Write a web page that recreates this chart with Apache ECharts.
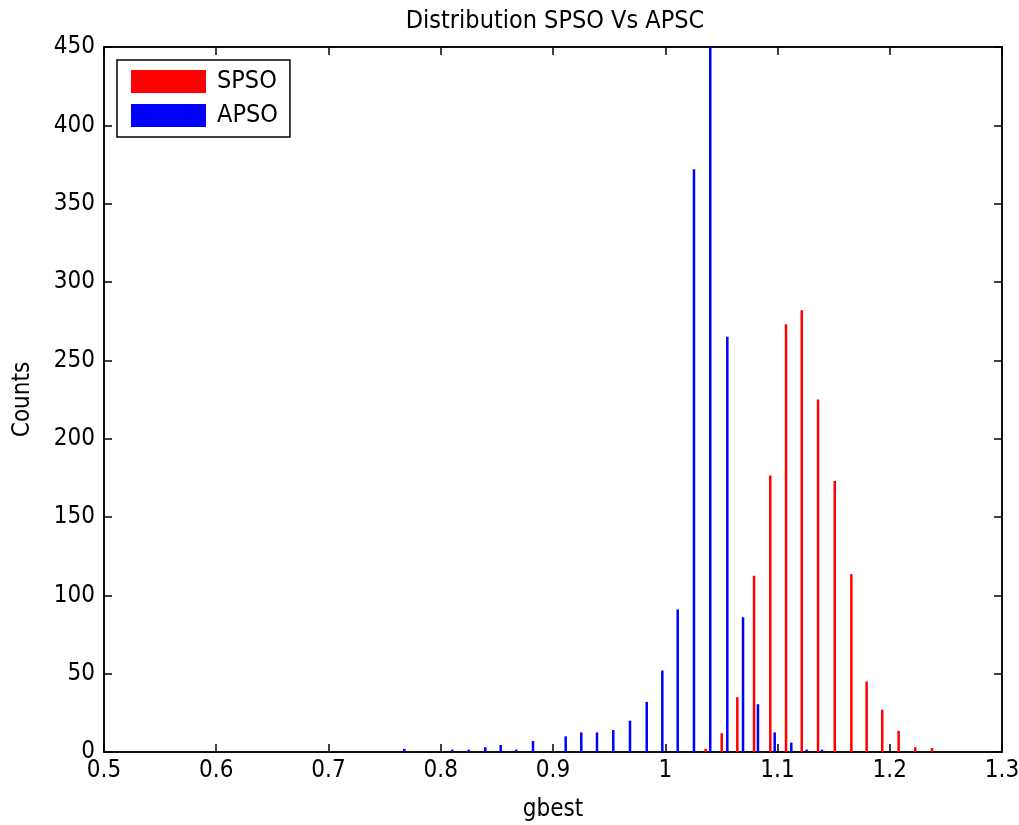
<!DOCTYPE html>
<html>
<head>
<meta charset="utf-8">
<script src="https://cdn.jsdelivr.net/npm/echarts@6/dist/echarts.min.js"></script>
<style>
html,body{margin:0;padding:0;background:#fff;}
#chart{width:1019px;height:825px;}
</style>
</head>
<body>
<div id="chart"></div>
<script>
// APSO histogram (bin centres, counts)
const apsoX = [0.7675,0.8103,0.8249,0.8397,0.8534,0.8673,0.8822,0.9113,0.9252,0.9392,0.9537,0.9686,0.9835,0.9974,1.0111,1.0256,1.0401,1.0553,1.0693,1.0826,1.0975,1.1123,1.1260,1.1396];
const apsoY = [2,1.5,1.5,3,4.5,1.5,7,10,12.5,12.5,14,20,32,52,91,372,450,265,86,30.5,12.5,6,1.5,1.5];
// SPSO histogram
const spsoX = [1.0360,1.0503,1.0642,1.0791,1.0936,1.1076,1.1216,1.1361,1.1510,1.1658,1.1794,1.1933,1.2079,1.2227,1.2376];
const spsoY = [2,12,35,112.5,176.5,273,282,225,173,113.5,45,27,13.5,3,2.5];
const xTicks = [0.5,0.6,0.7,0.8,0.9,1,1.1,1.2,1.3];
const yTicks = [0,50,100,150,200,250,300,350,400,450];

const FONT = "'DejaVu Sans Condensed','DejaVu Sans',sans-serif";
const chart = echarts.init(document.getElementById('chart'));
const pairs = (xs, ys) => xs.map((x, i) => [x, ys[i]]);

const axisCommon = {
  axisLine: {show: true, onZero: false, lineStyle: {color: '#000', width: 1.5}},
  axisTick: {show: true, inside: true, length: 8, lineStyle: {color: '#000', width: 1.5}},
  splitLine: {show: false}
};

chart.setOption({
  animation: false,
  backgroundColor: '#fff',
  title: {
    text: 'Distribution SPSO Vs APSC',
    left: 550, top: 4, textAlign: 'center',
    textStyle: {fontFamily: FONT, fontSize: 25, fontWeight: 'normal', color: '#000'}
  },
  legend: {
    orient: 'vertical', left: 117, top: 60,
    backgroundColor: '#fff', borderColor: '#000', borderWidth: 1.5,
    padding: [9, 12, 9, 14], itemGap: 9,
    itemWidth: 75, itemHeight: 23,
    icon: 'rect',
    textStyle: {fontFamily: FONT, fontSize: 25, color: '#000', padding: [0,0,0,6]},
    data: ['SPSO', 'APSO']
  },
  grid: {left: 104, right: 17, top: 47, bottom: 73, containLabel: false, outerBoundsMode: 'none',
    show: true, borderColor: '#000', borderWidth: 1.5, backgroundColor: '#fff'},
  xAxis: [
    Object.assign({}, axisCommon, {
      type: 'value', min: 0.5, max: 1.3, interval: 0.1, position: 'bottom',
      name: 'gbest', nameLocation: 'middle', nameGap: 46,
      nameTextStyle: {fontFamily: FONT, fontSize: 24, color: '#000'},
      axisLabel: {fontFamily: FONT, fontSize: 24, color: '#000', margin: 7,
        formatter: v => { const t = xTicks.find(k => Math.abs(k - v) < 1e-6); return t === undefined ? '' : String(t); }}
    }),
    Object.assign({}, axisCommon, {
      type: 'value', min: 0.5, max: 1.3, interval: 0.1, position: 'top',
      axisLabel: {show: false}
    })
  ],
  yAxis: [
    Object.assign({}, axisCommon, {
      type: 'value', min: 0, max: 450, interval: 50, position: 'left',
      name: 'Counts', nameLocation: 'middle', nameGap: 69, nameRotate: 90,
      nameTextStyle: {fontFamily: FONT, fontSize: 24, color: '#000'},
      axisLabel: {fontFamily: FONT, fontSize: 24, color: '#000', margin: 9,
        formatter: v => { const t = yTicks.find(k => Math.abs(k - v) < 1e-6); return t === undefined ? '' : String(t); }}
    }),
    Object.assign({}, axisCommon, {
      type: 'value', min: 0, max: 450, interval: 50, position: 'right',
      axisLabel: {show: false}
    })
  ],
  series: [
    {
      name: 'SPSO', type: 'bar', xAxisIndex: 0, yAxisIndex: 0,
      barWidth: 2.5, barGap: '-100%',
      itemStyle: {color: '#ff0000'},
      data: pairs(spsoX, spsoY)
    },
    {
      name: 'APSO', type: 'bar', xAxisIndex: 0, yAxisIndex: 0,
      barWidth: 2.5, barGap: '-100%',
      itemStyle: {color: '#0000ff'},
      data: pairs(apsoX, apsoY)
    }
  ]
});
</script>
</body>
</html>
